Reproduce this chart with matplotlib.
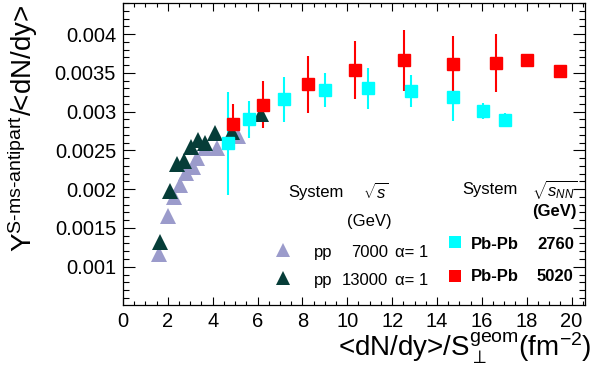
import matplotlib

matplotlib.use("Agg")

import matplotlib.pyplot as plt
from matplotlib.ticker import FuncFormatter, MultipleLocator

plt.rcParams["font.family"] = ["Liberation Sans", "DejaVu Sans"]
plt.rcParams["mathtext.fontset"] = "custom"
plt.rcParams["mathtext.rm"] = "Liberation Sans"
plt.rcParams["mathtext.it"] = "Liberation Sans:italic"
plt.rcParams["mathtext.bf"] = "Liberation Sans:bold"

# pp 7000 GeV
pp7_x = [1.62, 1.99, 2.27, 2.54, 2.81, 3.13, 3.31, 3.65, 4.17, 5.11]
pp7_y = [0.001165, 0.00165, 0.0019, 0.00205, 0.00221, 0.00229, 0.0024, 0.00253, 0.00253, 0.00269]

# pp 13000 GeV
pp13_x = [1.65, 2.09, 2.39, 2.72, 3.03, 3.36, 3.67, 4.10, 4.87, 6.15]
pp13_y = [0.001323, 0.00198, 0.00233, 0.00236, 0.00255, 0.00263, 0.00259, 0.00272, 0.00274, 0.00297]

# Pb-Pb 2760 GeV
pb2760_x = [4.66, 5.61, 7.17, 9.0, 10.93, 12.86, 14.71, 16.05, 17.02]
pb2760_y = [0.00259, 0.0029, 0.00316, 0.00328, 0.0033, 0.00326, 0.00319, 0.00301, 0.00289]
pb2760_err = [0.00066, 0.000236, 0.00029, 0.000223, 0.00026, 0.000207, 0.00031, 0.0001, 0.000086]

# Pb-Pb 5020 GeV
pb5020_x = [4.89, 6.25, 8.24, 10.33, 12.53, 14.71, 16.64, 18.03, 19.47]
pb5020_y = [0.00284, 0.00309, 0.00335, 0.00354, 0.00366, 0.00361, 0.00363, 0.00367, 0.00352]
pb5020_err = [0.000254, 0.0003, 0.000372, 0.000376, 0.00039, 0.000367, 0.000372, 0.0, 0.0]

c_pp7 = "#9b9bcb"
c_pp13 = "#063d38"
c_2760 = "#00ffff"
c_5020 = "#ff0000"

fig = plt.figure(figsize=(5.96, 3.85), dpi=100)
ax = fig.add_axes([123 / 596, 80 / 385, 462 / 596, 302 / 385])

ax.errorbar(pb2760_x, pb2760_y, yerr=pb2760_err, fmt="s", color=c_2760, ms=8, elinewidth=1.5, capsize=0)
ax.errorbar(pb5020_x, pb5020_y, yerr=pb5020_err, fmt="s", color=c_5020, ms=8.6, elinewidth=1.5, capsize=0)
ax.plot(pp7_x, pp7_y, "^", color=c_pp7, ms=11, mew=0)
ax.plot(pp13_x, pp13_y, "^", color=c_pp13, ms=11, mew=0)

ax.set_xlim(0, 20.6)
ax.set_ylim(0.000507, 0.0044)
ax.xaxis.set_major_locator(MultipleLocator(2))
ax.xaxis.set_minor_locator(MultipleLocator(0.5))
ax.yaxis.set_major_locator(MultipleLocator(0.0005))
ax.yaxis.set_minor_locator(MultipleLocator(0.0001))
ax.yaxis.set_major_formatter(FuncFormatter(lambda v, p: f"{v:g}"))
ax.tick_params(axis="both", which="both", direction="in", top=True, right=True, width=0.8, labelsize=14.5)
ax.tick_params(axis="x", which="major", length=5.8, pad=5)
ax.tick_params(axis="x", which="minor", length=2.9)
ax.tick_params(axis="y", which="major", length=8.6, pad=5)
ax.tick_params(axis="y", which="minor", length=4.3)
for s in ax.spines.values():
    s.set_linewidth(0.9)

fig.text(5 / 596, 1 - 5 / 385, r"Y$^{\text{S-ms-antipart}}$/<dN/dy>", rotation=90,
         ha="left", va="top", fontsize=20)
fig.text(592 / 596, 1 - 357 / 385, r"<dN/dy>/S$_{\perp}^{\rm geom}$(fm$^{-2}$)",
         ha="right", va="baseline", fontsize=20)

# legend, pp
tr = ax.transAxes
ax.text(0.357, 0.374, "System", transform=tr, fontsize=12, va="center")
ax.text(0.519, 0.374, r"$\sqrt{s}$", transform=tr, fontsize=12, va="center")
ax.text(0.534, 0.275, "(GeV)", transform=tr, fontsize=12, va="center", ha="center")
ax.plot([0.346], [0.182], "^", color=c_pp7, ms=10, mew=0, transform=tr, clip_on=False)
ax.plot([0.346], [0.089], "^", color=c_pp13, ms=10, mew=0, transform=tr, clip_on=False)
ax.text(0.413, 0.175, "pp", transform=tr, fontsize=12, va="center")
ax.text(0.413, 0.082, "pp", transform=tr, fontsize=12, va="center")
ax.text(0.574, 0.175, "7000", transform=tr, fontsize=12, va="center", ha="right")
ax.text(0.574, 0.082, "13000", transform=tr, fontsize=12, va="center", ha="right")
ax.text(0.589, 0.175, "α= 1", transform=tr, fontsize=12, va="center")
ax.text(0.589, 0.082, "α= 1", transform=tr, fontsize=12, va="center")

# legend, Pb-Pb
ax.text(0.734, 0.381, "System", transform=tr, fontsize=12, va="center")
ax.text(0.885, 0.381, r"$\sqrt{s_{NN}}$", transform=tr, fontsize=12, va="center")
ax.text(0.885, 0.308, "(GeV)", transform=tr, fontsize=12, va="center", fontweight="bold")
ax.plot([0.719], [0.209], "s", color=c_2760, ms=8, mew=0, transform=tr, clip_on=False)
ax.plot([0.719], [0.096], "s", color=c_5020, ms=8, mew=0, transform=tr, clip_on=False)
ax.text(0.753, 0.199, "Pb-Pb", transform=tr, fontsize=12, va="center", fontweight="bold")
ax.text(0.753, 0.093, "Pb-Pb", transform=tr, fontsize=12, va="center", fontweight="bold")
ax.text(0.896, 0.199, "2760", transform=tr, fontsize=12, va="center", fontweight="bold")
ax.text(0.896, 0.093, "5020", transform=tr, fontsize=12, va="center", fontweight="bold")

fig.savefig("out.png", dpi=100)
